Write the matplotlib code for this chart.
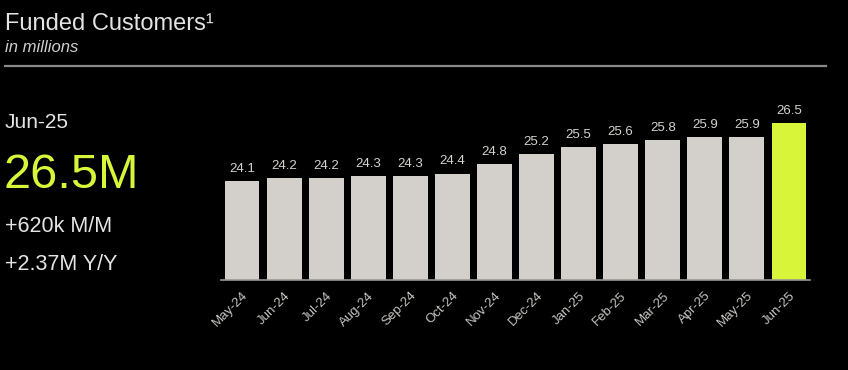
import matplotlib.pyplot as plt
from matplotlib.lines import Line2D

# 数据
months = ["May-24", "Jun-24", "Jul-24", "Aug-24", "Sep-24", "Oct-24", "Nov-24",
          "Dec-24", "Jan-25", "Feb-25", "Mar-25", "Apr-25", "May-25", "Jun-25"]
customers = [24.1, 24.2, 24.2, 24.3, 24.3, 24.4, 24.8,
             25.2, 25.5, 25.6, 25.8, 25.9, 25.9, 26.5]

plt.rcParams['font.family'] = ['Liberation Sans', 'DejaVu Sans']

bg = "#000000"
bar_gray = "#d3d0cb"
lime = "#d9f53a"
text_col = "#e4e4e4"

fig = plt.figure(figsize=(8.48, 3.7), dpi=100, facecolor=bg)

# 标题区
fig.text(5 / 848, 1 - 24 / 370, "Funded Customers\u00b9", color=text_col,
         fontsize=17, va="center", ha="left")
fig.text(5 / 848, 1 - 47 / 370, "in millions", color="#cfcfcf",
         fontsize=12, style="italic", va="center", ha="left")
fig.add_artist(Line2D([5 / 848, 826 / 848], [1 - 66 / 370, 1 - 66 / 370],
                      color="#8a8a8a", lw=1.6, transform=fig.transFigure))

# 左侧摘要
fig.text(5 / 848, 1 - 122 / 370, "Jun-25", color=text_col, fontsize=15,
         va="center", ha="left")
fig.text(3 / 848, 1 - 176 / 370, "26.5M", color=lime, fontsize=35,
         va="center", ha="left")
fig.text(5 / 848, 1 - 227 / 370, "+620k M/M", color=text_col, fontsize=15.5,
         va="center", ha="left")
fig.text(5 / 848, 1 - 265 / 370, "+2.37M Y/Y", color=text_col, fontsize=15.5,
         va="center", ha="left")

# 柱状图
ax = fig.add_axes([221 / 848, 90 / 370, 589 / 848, 169.4 / 370])
ax.set_facecolor(bg)
colors = [bar_gray] * (len(months) - 1) + [lime]
x = range(len(months))
ax.bar(x, customers, width=0.83, color=colors, bottom=0)
ax.set_xlim(-0.5, len(months) - 0.5)
ax.set_ylim(20, 27)

for i, v in zip(x, customers):
    ax.text(i, v + 0.25, f"{v:.1f}", color="#d6d3ce", fontsize=9.5,
            ha="center", va="bottom")

ax.set_xticks(list(x))
ax.set_xticklabels(months, rotation=45, ha="right", rotation_mode="anchor",
                   color="#c8c5c0", fontsize=9.5)
ax.tick_params(axis="x", length=0, pad=7)
ax.set_yticks([])
for s in ["top", "right", "left"]:
    ax.spines[s].set_visible(False)
ax.spines["bottom"].set_color("#9a9893")
ax.spines["bottom"].set_linewidth(1.2)

fig.savefig("out.png", dpi=100, facecolor=bg)
